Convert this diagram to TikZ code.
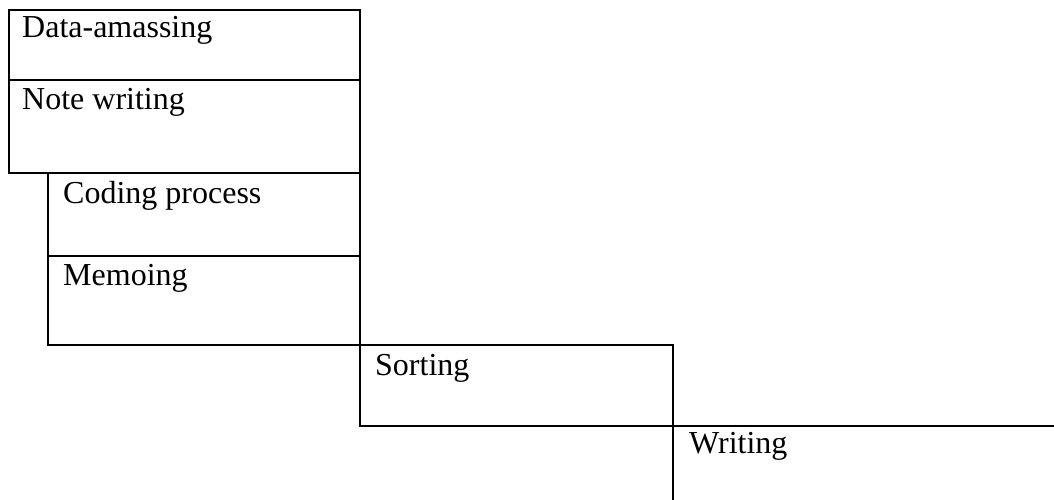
\documentclass[tikz,border=0pt]{standalone}
\usepackage{fontspec}
\setmainfont{Liberation Serif}
\begin{document}
\begin{tikzpicture}[x=1pt,y=-1pt,
  boxline/.style={draw=black,line width=2.2pt},
  label/.style={anchor=base west,inner sep=0pt,font=\fontsize{32}{38}\selectfont}]
\useasboundingbox (0,0) rectangle (1054,500);
% corners
\coordinate (a1) at (9,10);   \coordinate (a2) at (360,80);
\coordinate (b1) at (9,80);   \coordinate (b2) at (360,173);
\coordinate (c1) at (48,173); \coordinate (c2) at (360,256);
\coordinate (d1) at (48,256); \coordinate (d2) at (360,345);
\coordinate (e1) at (360,345);\coordinate (e2) at (673,426);
\coordinate (f1) at (673,426);\coordinate (fr) at (1054,426);\coordinate (fb) at (673,500);
\draw[boxline] (a1) rectangle (a2);
\draw[boxline] (b1) rectangle (b2);
\draw[boxline] (c1) rectangle (c2);
\draw[boxline] (d1) rectangle (d2);
\draw[boxline] (e1) rectangle (e2);
\draw[boxline] (fr) -- (f1) -- (fb);
\node[label] (t1) at (22,38) {Data-amassing};
\node[label] (t2) at (22,110) {Note writing};
\node[label] (t3) at (63,203) {Coding process};
\node[label] (t4) at (63,285) {Memoing};
\node[label] (t5) at (375,375) {Sorting};
\node[label] (t6) at (689,453) {Writing};
\end{tikzpicture}
\end{document}
